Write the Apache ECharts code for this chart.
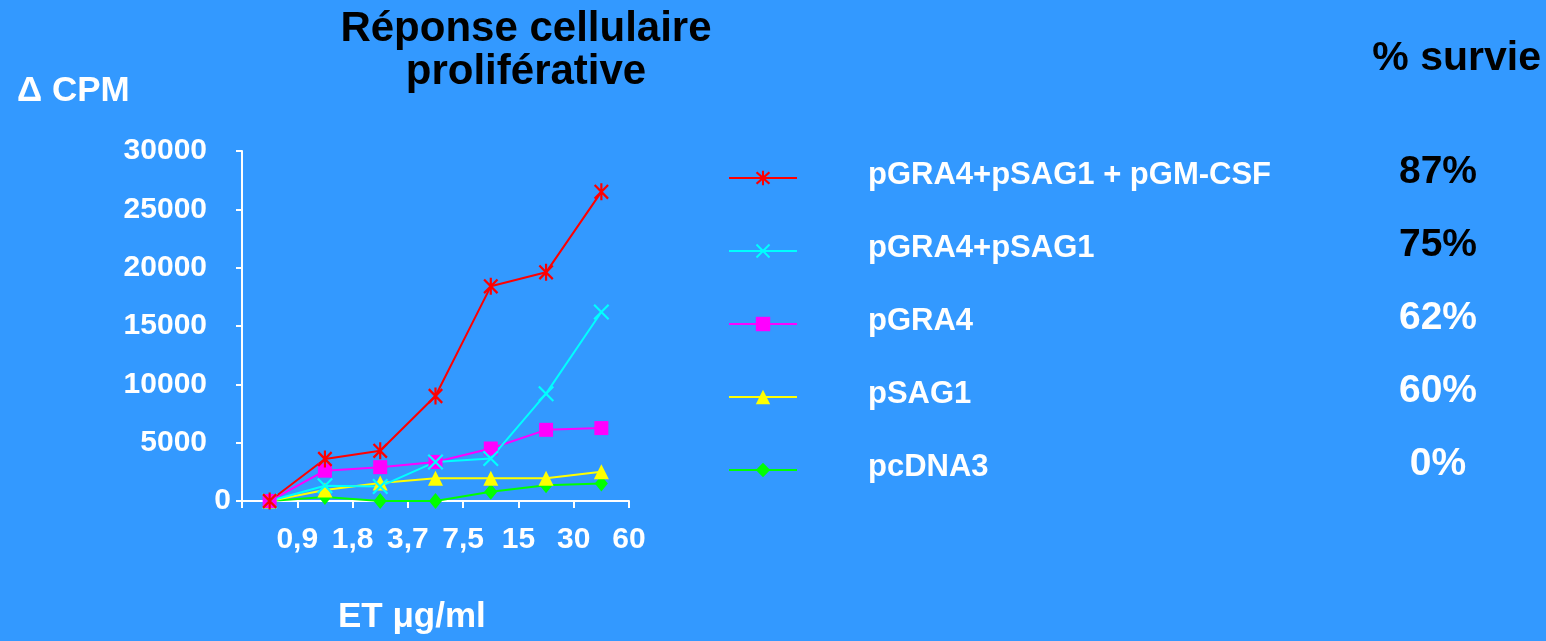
<!DOCTYPE html>
<html>
<head>
<meta charset="utf-8">
<script src="https://cdn.jsdelivr.net/npm/echarts@6/dist/echarts.min.js"></script>
<style>
  html, body { margin: 0; padding: 0; background: #3399FF; }
  #chart { width: 1546px; height: 641px; }
</style>
</head>
<body>
<div id="chart"></div>
<script>
// Doses of the antigen extract (ET, µg/ml)
const doses = ['0,9', '1,8', '3,7', '7,5', '15', '30', '60'];

// Proliferative response (delta CPM) for each immunisation group
const cpmGraSagGm = [0, 3600, 4300, 9000, 18400, 19600, 26500];
const cpmGraSag   = [0, 1300, 1250, 3350, 3650, 9200, 16200];
const cpmGra      = [0, 2600, 2900, 3350, 4500, 6100, 6250];
const cpmSag      = [0, 950, 1550, 1950, 1950, 1950, 2500];
const cpmVide     = [0, 350, 0, 0, 800, 1350, 1500];

// Group names and survival rates, in legend order
const groups   = ['pGRA4+pSAG1 + pGM-CSF', 'pGRA4+pSAG1', 'pGRA4', 'pSAG1', 'pcDNA3'];
const survival = ['87%', '75%', '62%', '60%', '0%'];
const darkSurvival = [true, true, false, false, false];

// Y axis range
const yMin = 0, yMax = 30000, yStep = 5000;

const FONT = '"Liberation Sans", Arial, Helvetica, sans-serif';
const SHADOW = 'rgba(10,10,40,0.75)';

const ASTERISK = 'path://M8.7 0H11.3V20H8.7Z M1 2.9L2.9 1L19 17.1L17.1 19Z M17.1 1L19 2.9L2.9 19L1 17.1Z';
const CROSS = 'path://M1 2.7L2.7 1L19 17.3L17.3 19Z M17.3 1L19 2.7L2.7 19L1 17.3Z';

function lineSeries(name, data, color, symbol, size) {
  return {
    name: name,
    type: 'line',
    data: data,
    xAxisIndex: 0,
    symbol: symbol,
    symbolSize: size,
    showAllSymbol: true,
    lineStyle: { color: color, width: 2 },
    itemStyle: { color: color },
    emphasis: { disabled: true }
  };
}

const chart = echarts.init(document.getElementById('chart'), null, { renderer: 'canvas' });

chart.setOption({
  backgroundColor: '#3399FF',
  animation: false,
  grid: { left: 242, top: 151, right: 917, bottom: 140, containLabel: false },
  xAxis: [
    {
      type: 'category',
      data: doses,
      position: 'bottom',
      boundaryGap: true,
      axisLine: { show: true, lineStyle: { color: '#ffffff', width: 2 } },
      axisTick: { show: true, length: 7, lineStyle: { color: '#ffffff', width: 2 } },
      axisLabel: { show: false },
      splitLine: { show: false }
    },
    {
      type: 'category',
      data: [''].concat(doses),
      position: 'bottom',
      boundaryGap: false,
      axisLine: { show: false },
      axisTick: { show: false },
      axisLabel: {
        show: true, interval: 0, margin: 24,
        color: '#ffffff', fontFamily: FONT, fontSize: 30, fontWeight: 'bold'
      },
      splitLine: { show: false }
    }
  ],
  yAxis: {
    type: 'value',
    min: yMin, max: yMax, interval: yStep,
    axisLine: { show: true, lineStyle: { color: '#ffffff', width: 2 } },
    axisTick: { show: true, length: 6, lineStyle: { color: '#ffffff', width: 2 } },
    splitLine: { show: false },
    axisLabel: {
      margin: 11,
      formatter: function (v) { return v === 0 ? '{z|0}' : '{n|' + v + '}'; },
      rich: {
        n: { color: '#ffffff', fontFamily: FONT, fontSize: 30, fontWeight: 'bold', padding: [0, 24, 0, 0] },
        z: { color: '#ffffff', fontFamily: FONT, fontSize: 30, fontWeight: 'bold' }
      }
    }
  },
  legend: {
    data: groups,
    orient: 'vertical',
    left: 728,
    top: 153,
    padding: 0,
    itemWidth: 68,
    itemHeight: 18,
    itemGap: 29,
    selectedMode: false,
    lineStyle: { width: 2 },
    formatter: function (name) {
      const i = groups.indexOf(name);
      return '{n|' + name + '}{' + (darkSurvival[i] ? 'dk' : 'lt') + '|' + survival[i] + '}';
    },
    textStyle: {
      color: '#ffffff', fontFamily: FONT, fontSize: 31, fontWeight: 'bold', lineHeight: 32,
      padding: [0, 0, 6, 66],
      textShadowColor: SHADOW, textShadowOffsetX: 2, textShadowOffsetY: 2, textShadowBlur: 0,
      rich: {
        n: {
          width: 518, color: '#ffffff', fontFamily: FONT, fontSize: 31, fontWeight: 'bold', lineHeight: 32,
          textShadowColor: SHADOW, textShadowOffsetX: 2, textShadowOffsetY: 2
        },
        lt: {
          width: 104, align: 'center', color: '#ffffff', fontFamily: FONT, fontSize: 39, fontWeight: 'bold',
          lineHeight: 32, padding: [0, 0, 5, 0],
          textShadowColor: SHADOW, textShadowOffsetX: 2, textShadowOffsetY: 2
        },
        dk: {
          width: 104, align: 'center', color: '#000000', fontFamily: FONT, fontSize: 39, fontWeight: 'bold',
          lineHeight: 32, padding: [0, 0, 5, 0],
          textShadowColor: 'rgba(0,0,0,0)', textShadowOffsetX: 0, textShadowOffsetY: 0
        }
      }
    }
  },
  // drawn back to front: control first, strongest response last
  series: [
    lineSeries(groups[4], cpmVide, '#00FF00', 'diamond', [13, 16]),
    lineSeries(groups[3], cpmSag, '#FFFF00', 'triangle', 15),
    lineSeries(groups[2], cpmGra, '#FF00FF', 'rect', 14),
    lineSeries(groups[1], cpmGraSag, '#00FFFF', CROSS, 16),
    lineSeries(groups[0], cpmGraSagGm, '#FF0000', ASTERISK, [15, 17])
  ],
  graphic: [
    {
      type: 'text', x: 526, y: 8,
      style: {
        text: 'Réponse cellulaire\nproliférative',
        align: 'center', verticalAlign: 'top',
        fill: '#000000', font: 'bold 42px ' + FONT, lineHeight: 43
      }
    },
    {
      type: 'text', x: 17, y: 73,
      style: {
        text: 'Δ CPM', align: 'left', verticalAlign: 'top',
        fill: '#ffffff', font: 'bold 35px ' + FONT, lineHeight: 37,
        shadowColor: SHADOW, shadowOffsetX: 2, shadowOffsetY: 2
      }
    },
    {
      type: 'text', x: 338, y: 599,
      style: {
        text: 'ET μg/ml', align: 'left', verticalAlign: 'top',
        fill: '#ffffff', font: 'bold 35px ' + FONT, lineHeight: 37,
        shadowColor: SHADOW, shadowOffsetX: 2, shadowOffsetY: 2
      }
    },
    {
      type: 'text', x: 1541, y: 37,
      style: {
        text: '% survie', align: 'right', verticalAlign: 'top',
        fill: '#000000', font: 'bold 41px ' + FONT, lineHeight: 43
      }
    }
  ]
});
</script>
</body>
</html>
